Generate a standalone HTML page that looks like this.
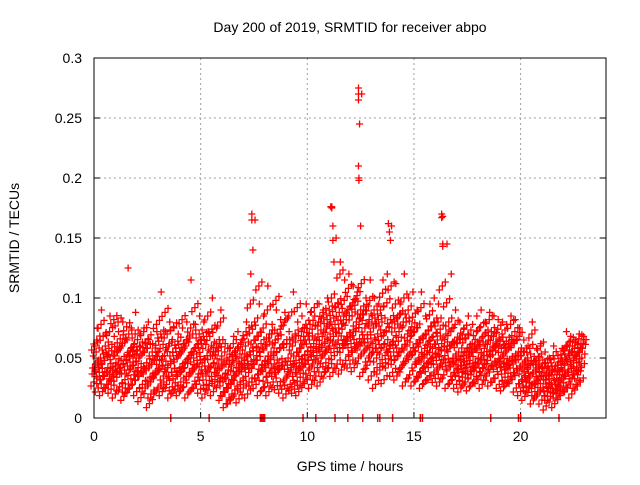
<!DOCTYPE html>
<html><head><meta charset="utf-8"><style>
body{margin:0;background:#fff;}
svg text{font-family:"Liberation Sans",sans-serif;font-size:14px;fill:#000;}
</style></head><body>
<svg id="chart" width="640" height="480" xmlns="http://www.w3.org/2000/svg">
<rect width="640" height="480" fill="#fff"/>
<text x="350" y="32" text-anchor="middle">Day 200 of 2019, SRMTID for receiver abpo</text>
<text transform="translate(19,238) rotate(-90)" text-anchor="middle">SRMTID / TECUs</text>
<text x="350" y="471" text-anchor="middle">GPS time / hours</text>
<g id="grid"></g><g id="ticks"></g><g id="marks"></g>
<rect x="94" y="58" width="512" height="360" fill="none" stroke="#000" stroke-width="1"/>
</svg>
<script>
const xTicks=[0,5,10,15,20];
const yTicks=[0,0.05,0.1,0.15,0.2,0.25,0.3];
const yTickLabels=["0","0.05","0.1","0.15","0.2","0.25","0.3"];
const step=0.2;
const seriesLow=[30,25,22,28,24,20,26,18,24,28,22,17,25,12,20,25,22,28,20,24,22,26,20,25,28,24,20,27,22,30,18,12,15,20,16,25,20,30,28,22,26,22,30,27,24,20,28,24,22,30,32,28,35,30,38,42,38,45,40,48,45,42,50,38,44,35,28,40,32,45,38,35,42,30,36,30,34,28,32,35,33,30,36,28,32,28,25,30,26,30,32,28,35,30,33,28,26,30,32,25,22,18,25,15,20,15,10,18,12,20,22,25,20,28,30];
const seriesMidLow=[40,38,35,42,36,38,42,32,40,44,35,38,40,30,36,40,35,42,38,36,38,42,35,40,45,40,35,42,38,45,30,25,32,35,30,42,38,45,48,40,42,38,45,40,44,35,42,38,40,45,48,45,52,50,55,60,58,65,62,68,62,58,66,55,60,55,50,58,52,60,55,52,58,50,55,45,48,42,46,50,48,45,52,44,46,40,38,42,40,42,45,42,48,44,46,42,40,44,45,40,32,30,35,28,32,25,22,28,24,30,35,38,36,40,42];
const seriesMidHigh=[55,50,48,58,52,55,60,48,56,62,50,55,58,45,52,58,52,60,55,50,55,60,52,58,62,58,52,60,55,62,45,40,48,50,45,60,55,65,68,58,60,55,65,58,62,50,60,55,58,65,65,62,70,68,75,80,78,88,85,90,85,80,90,75,82,75,70,80,72,82,75,72,80,70,76,62,65,58,64,68,65,62,70,60,64,55,52,58,55,58,60,58,65,60,62,58,55,60,62,55,45,42,48,40,45,38,35,40,36,42,50,52,50,55,58];
const seriesHigh=[75,90,70,85,68,72,80,65,75,88,70,75,80,62,72,105,72,80,75,70,75,80,115,78,85,80,72,100,75,90,62,58,68,72,65,80,120,165,95,85,110,78,90,82,88,72,105,80,85,95,88,85,95,90,100,176,150,130,115,120,110,105,270,100,115,100,95,115,120,160,112,95,120,100,105,90,105,85,95,100,95,168,145,120,90,80,75,85,78,85,90,80,88,85,82,80,78,85,82,75,65,60,80,58,62,55,50,60,52,58,72,68,65,70,68];
const seriesA=[45,32,50,28,40,34,48,25,52,36,42,28,46,20,38,48,30,44,26,52,30,46,38,50,34,46,28,52,32,40,22,36,20,42,28,48,30,56,36,44,34,50,38,46,30,44,26,48,34,52,40,56,42,60,46,70,52,75,58,64,56,72,60,66,50,62,42,68,46,58,48,64,44,60,52,56,38,50,42,58,40,56,46,60,38,48,34,50,36,46,38,52,40,56,44,50,34,48,38,52,40,26,44,22,38,32,18,36,20,26,44,30,48,36,50];
const seriesB=[65,78,60,72,82,80,62,76,58,70,60,72,66,55,78,70,88,62,76,64,82,65,75,92,70,68,85,74,62,80,55,48,62,58,50,72,95,80,110,75,90,70,98,74,80,85,65,92,72,78,78,92,80,88,82,100,92,120,98,108,96,102,112,90,98,90,82,104,96,110,95,86,100,90,84,75,92,70,86,80,80,110,96,72,78,66,74,70,62,72,76,70,82,68,74,70,64,78,72,68,55,50,70,48,60,46,40,52,44,50,60,64,58,66,62];
const seriesC=[60,42,68,38,56,46,66,40,70,50,56,38,62,34,48,64,44,70,38,58,42,62,50,70,48,62,40,68,46,56,34,50,28,56,40,66,44,74,52,62,48,70,52,66,44,62,40,70,46,68,56,74,58,80,62,90,68,96,74,82,70,94,78,86,66,80,58,90,62,76,64,84,58,80,68,72,50,66,56,76,54,74,60,80,50,62,44,66,48,60,50,68,52,72,56,64,46,62,50,68,52,34,58,30,50,42,26,46,28,36,56,40,60,46,62];
const spikeHours=[7.4,7.4,7.45,11.1,11.15,12.4,12.4,12.4,12.45,12.4,12.42,12.42,12.5,13.8,13.85,13.9,16.3,16.3,16.35,16.35,11.2,11.2,1.6,11.25];
const spikeValues=[0.17,0.165,0.14,0.176,0.175,0.275,0.27,0.265,0.245,0.21,0.2,0.198,0.16,0.162,0.155,0.148,0.17,0.167,0.145,0.143,0.16,0.148,0.125,0.13];
const rugHours=[3.6,5.4,7.8,7.85,7.9,7.95,8.0,9.8,10.4,11.3,11.9,12.6,13.3,13.4,14.0,15.3,15.4,18.6,19.9,20.0,21.8];

const X=h=>94+h*21.33, Y=v=>418-v*1200;
const NS="http://www.w3.org/2000/svg";
function mk(tag,attrs,parent){const e=document.createElementNS(NS,tag);for(const k in attrs)e.setAttribute(k,attrs[k]);parent.appendChild(e);return e;}
const grid=document.getElementById('grid'),ticks=document.getElementById('ticks'),marks=document.getElementById('marks');
xTicks.forEach(t=>{
  if(t>0){const g=mk('line',{x1:X(t),x2:X(t),y1:58,y2:418,stroke:'#a0a0a0','stroke-dasharray':'2,3'},grid);
  
  }
  const tk=mk('line',{x1:X(t),x2:X(t),y1:418,y2:412,stroke:'#000'},ticks);
  
  
  const tx=mk('text',{x:X(t),y:441,'text-anchor':'middle'},ticks);tx.textContent=t;
  
  
});
yTicks.forEach((t,i)=>{
  if(t>0&&t<0.3){const g=mk('line',{x1:94,x2:606,y1:Y(t),y2:Y(t),stroke:'#a0a0a0','stroke-dasharray':'2,3'},grid);
  
  }
  const tk=mk('line',{x1:94,x2:100,y1:Y(t),y2:Y(t),stroke:'#000'},ticks);
  
  
  const tk2=mk('line',{x1:600,x2:606,y1:Y(t),y2:Y(t),stroke:'#000'},ticks);
  
  
  const tx=mk('text',{x:82,y:Y(t)+5,'text-anchor':'end'},ticks);tx.textContent=yTickLabels[i];
  
  
});
function crossPath(x,y){return `M${x-3.5},${y}H${x+3.5}M${x},${y-3.5}V${y+3.5}`;}
function plus(h,v,cluster){
  const x=X(h),y=Y(v);
  let d=crossPath(x,y);
  if(cluster){d+=crossPath(x+3,y-4)+crossPath(x-3,y+4);}
  const p=mk('path',{d:d,stroke:'#ff0000','stroke-width':'1.3',fill:'none'},marks);
  
  
}
const allSeries=[seriesLow,seriesMidLow,seriesMidHigh,seriesHigh,seriesA,seriesB,seriesC];
const seriesShift=[0,0.05,0.1,0.15,0.07,0.13,0.03];
allSeries.forEach((s,k)=>{
  s.forEach((v,i)=>plus(i*step+seriesShift[k],v/1000,k!==3));
});
spikeHours.forEach((h,i)=>plus(h,spikeValues[i],false));
rugHours.forEach(h=>{
  const r=mk('line',{x1:X(h),x2:X(h),y1:414,y2:422,stroke:'#ff0000','stroke-width':'1.5'},marks);
  
  
});
</script>
</body></html>
